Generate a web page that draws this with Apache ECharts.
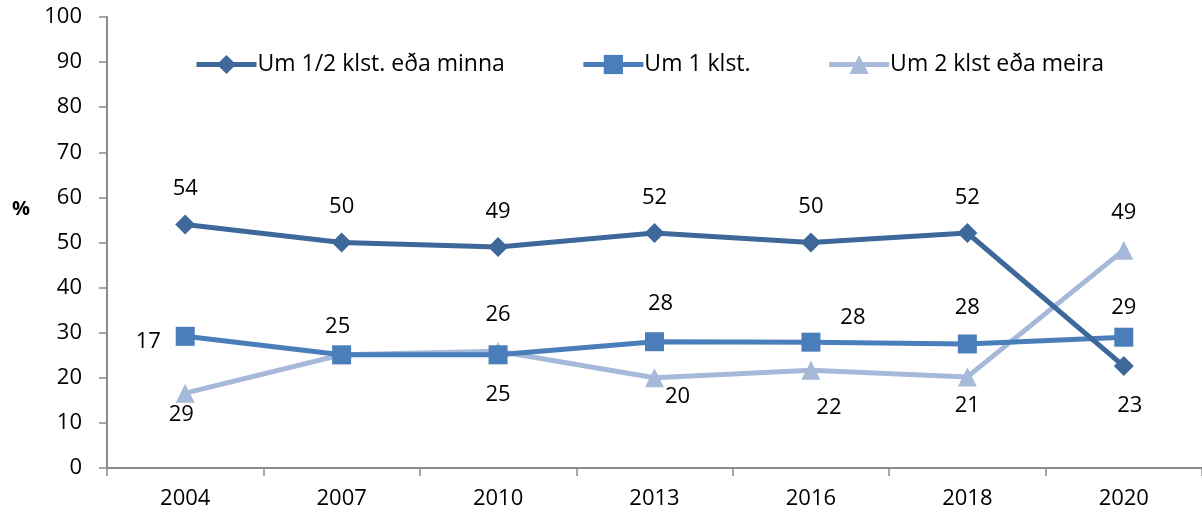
<!DOCTYPE html>
<html>
<head>
<meta charset="utf-8">
<script src="https://cdn.jsdelivr.net/npm/echarts@6/dist/echarts.min.js"></script>
<style>html,body{margin:0;padding:0;background:#fff}#c{width:1202px;height:518px}</style>
</head>
<body>
<div id="c"></div>
<script>
const categories = ['2004', '2007', '2010', '2013', '2016', '2018', '2020'];
const seriesNames = ['Um 1/2 klst. eða minna', 'Um 1 klst.', 'Um 2 klst eða meira'];
const halfHour = [54, 50, 49, 52.1, 50, 52.1, 22.6];
const oneHour = [29.2, 25.1, 25.1, 28, 27.9, 27.5, 29];
const twoHours = [16.6, 25.1, 25.9, 20, 21.7, 20.2, 48.3];
const halfHourLabels = ['54', '50', '49', '52', '50', '52', '23'];
const oneHourLabels = ['17', '25', '25', '28', '28', '28', '29'];
const twoHoursLabels = ['29', '', '26', '20', '22', '21', '49'];
const yTicks = [0, 10, 20, 30, 40, 50, 60, 70, 80, 90, 100];

const FONT = 'Open Sans';
const offsets = [
  [[0,-36],[0,-36],[0,-35],[0,-35],[0,-36],[0,-35],[6,40]],
  [[-37,5],[-4,-28],[0,40],[6,-38],[42,-24],[0,-36],[0,-29]],
  [[-4,22],[0,0],[0,-36],[23,19],[18,38],[0,29],[0,-37]]
];
const colors = ['#3D6899', '#4A7EBB', '#A7B9D9'];
const symbols = ['diamond', 'rect', 'triangle'];
const sizes = [20, 19, [19, 19]];
const values = [halfHour, oneHour, twoHours];
const labels = [halfHourLabels, oneHourLabels, twoHoursLabels];

const series = values.map((vals, s) => ({
  name: seriesNames[s],
  type: 'line',
  data: vals.map((v, i) => ({
    value: v,
    label: { offset: offsets[s][i], formatter: labels[s][i] }
  })),
  symbol: symbols[s],
  symbolSize: sizes[s],
  showAllSymbol: true,
  lineStyle: { width: 5, color: colors[s] },
  itemStyle: { color: colors[s] },
  label: {
    show: true, position: 'inside',
    color: '#000', fontFamily: FONT, fontSize: 22
  },
  emphasis: { disabled: true },
  animation: false,
  z: 3 - s
}));

const chart = echarts.init(document.getElementById('c'));
chart.setOption({
  animation: false,
  backgroundColor: '#fff',
  grid: { left: 107, top: 17, width: 1097, bottom: 50, containLabel: false },
  legend: {
    left: 189, top: 48,
    itemWidth: 60, itemHeight: 24, itemGap: 76,
    lineStyle: { width: 5 },
    textStyle: { fontFamily: FONT, fontSize: 23, color: '#000', padding: [0, 0, 0, -4] },
    data: seriesNames
  },
  graphic: [{
    type: 'text', left: 12, top: 199,
    style: { text: '%', fontFamily: FONT, fontSize: 20, fontWeight: 'bold', fill: '#000' }
  }],
  xAxis: {
    type: 'category', data: categories, boundaryGap: true,
    axisLine: { lineStyle: { color: '#8c8c8c', width: 2 } },
    axisTick: { show: true, length: 8, lineStyle: { color: '#8c8c8c', width: 1.5 } },
    axisLabel: { fontFamily: FONT, fontSize: 22, color: '#000', margin: 20 },
    splitLine: { show: false }
  },
  yAxis: {
    type: 'value', min: yTicks[0], max: yTicks[yTicks.length - 1], interval: 10,
    axisLine: { show: true, lineStyle: { color: '#8c8c8c', width: 2 } },
    axisTick: { show: true, length: 8, lineStyle: { color: '#8c8c8c', width: 1.5 } },
    axisLabel: { fontFamily: FONT, fontSize: 22, color: '#000', margin: 25 },
    splitLine: { show: false }
  },
  series: series
});
</script>
</body>
</html>
